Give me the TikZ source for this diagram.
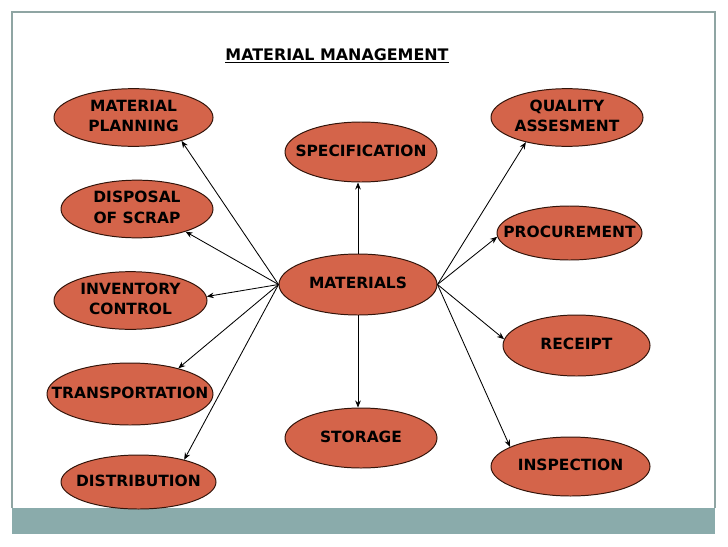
\documentclass[tikz,border=0pt]{standalone}
\usepackage{fontspec}
\setmainfont{DejaVu Sans}
\usepackage{tikz}
\usetikzlibrary{arrows.meta,shapes.geometric}
\definecolor{ellfill}{RGB}{212,100,74}
\definecolor{ellline}{RGB}{50,20,10}
\definecolor{framecol}{RGB}{143,165,163}
\definecolor{barcol}{RGB}{138,171,171}
\tikzset{>/.tip={Stealth[length=5pt,width=4pt]}}
\newcommand{\elltext}[1]{\makebox[0pt]{\begin{tabular}{@{}c@{}}#1\end{tabular}}}

\begin{document}
\begin{tikzpicture}[x=0.025cm,y=-0.025cm,
  blob/.style={ellipse, draw=ellline, fill=ellfill, line width=0.7pt, inner sep=0pt,
    font=\fontsize{11}{14.5}\selectfont\bfseries},
  esize/.style 2 args={minimum width=#1*0.025cm, minimum height=#2*0.025cm},
  link/.style={->, line width=0.6pt}]
\useasboundingbox (0,0) rectangle (728,546);
% frame and bar
\fill[barcol] (12,508) rectangle (715,534);
\draw[framecol, line width=0.8pt] (12,508) -- (12,12) -- (715,12) -- (715,508);

\node[anchor=base, font=\fontsize{11.3}{13}\selectfont\bfseries] (title) at (337,60) {\underline{MATERIAL MANAGEMENT}};

\node[blob, esize={158}{61}] (mat) at (358,284.5) {\elltext{MATERIALS}};
\node[blob, esize={152}{60}] (spec) at (361,152) {\elltext{SPECIFICATION}};
\node[blob, esize={152}{60}] (stor) at (361,438) {\elltext{STORAGE}};

\node[blob, esize={159}{55}] (mp) at (133.5,117.5) {\elltext{MATERIAL\\PLANNING}};
\node[blob, esize={152}{54}] (ds) at (137,209) {\elltext{DISPOSAL\\OF SCRAP}};
\node[blob, esize={153}{55}] (ic) at (130.5,300.5) {\elltext{INVENTORY\\CONTROL}};
\node[blob, esize={166}{62}] (tr) at (130,394) {\elltext{TRANSPORTATION}};
\node[blob, esize={155}{54}] (di) at (138.5,482) {\elltext{DISTRIBUTION}};

\node[blob, esize={152}{55}] (qa) at (567,117.5) {\elltext{QUALITY\\ASSESMENT}};
\node[blob, esize={145}{54}] (pr) at (569.5,233) {\elltext{PROCUREMENT}};
\node[blob, esize={147}{61}] (rc) at (576.5,345.5) {\elltext{RECEIPT}};
\node[blob, esize={159}{59}] (insp) at (570.5,466.5) {\elltext{INSPECTION}};

% arrows out of the centre
\draw[link] (mat.north) -- (spec.south -| mat.north);
\draw[link] (mat.south) -- (stor.north -| mat.south);
\draw[link] (mat.west) -- (mp.-26);
\draw[link] (mat.west) -- (ds.-25);
\draw[link] (mat.west) -- (ic.3);
\draw[link] (mat.west) -- (tr.28);
\draw[link] (mat.west) -- (di.26);
\draw[link] (mat.east) -- (qa.-149);
\draw[link] (mat.east) -- (pr.183);
\draw[link] (mat.east) -- (rc.175);
\draw[link] (mat.east) -- (insp.162);
\end{tikzpicture}
\end{document}
